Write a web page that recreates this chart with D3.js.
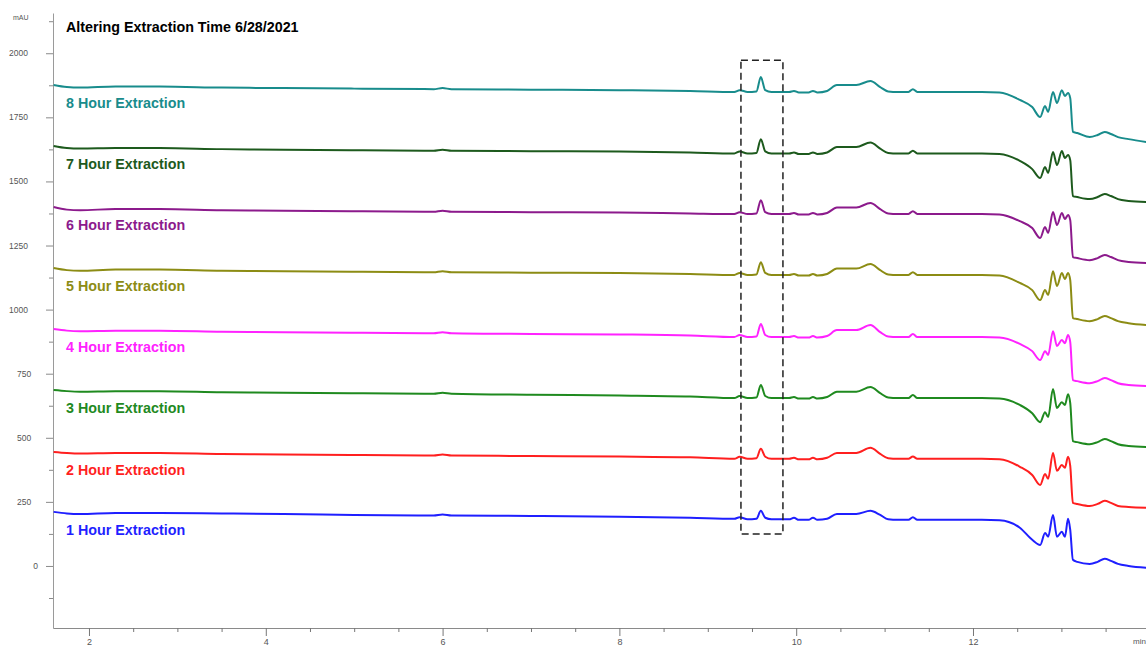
<!DOCTYPE html>
<html>
<head>
<meta charset="utf-8">
<script src="https://cdn.jsdelivr.net/npm/d3@7"></script>
<style>
  body { margin: 0; background: #fff; }
  svg { display: block; }
  text { font-family: "Liberation Sans", Arial, Helvetica, sans-serif; }
</style>
</head>
<body>
<svg id="chart" width="1146" height="647"></svg>
<script>
// Retention times (min) shared by every trace
const times = [1.60, 1.75, 1.90, 2.30, 2.80, 3.50, 4.20, 5.00, 5.90, 6.00,
  6.10, 7.00, 8.00, 8.80, 9.30, 9.36, 9.45, 9.55, 9.60, 9.65,
  9.72, 9.92, 9.975, 10.03, 10.14, 10.19, 10.24, 10.35, 10.46, 10.68,
  10.84, 10.95, 11.04, 11.15, 11.27, 11.32, 11.37, 11.80, 12.10, 12.30,
  12.53, 12.67, 12.76, 12.815, 12.85, 12.905, 12.95, 13.005, 13.04, 13.075,
  13.10, 13.13, 13.18, 13.32, 13.41, 13.49, 13.56, 13.64, 13.76, 13.96];

// Absorbance (mAU), stacked chromatograms
const hour1 = [211, 205, 203, 207, 207, 205, 203, 199, 197, 201,
  197, 195, 192, 188, 184, 190, 182, 184, 215, 188,
  182, 182, 188, 180, 180, 188, 180, 184, 203, 203,
  215, 199, 182, 180, 180, 190, 180, 180, 180, 178,
  149, 102, 82, 129, 114, 199, 114, 133, 114, 184,
  141, 24, 16, 8, 16, 28, 20, 8, 0, -7];
const hour2 = [445, 441, 439, 441, 441, 437, 435, 433, 431, 435,
  431, 429, 427, 424, 418, 426, 418, 420, 457, 426,
  418, 418, 422, 416, 416, 422, 416, 422, 441, 441,
  461, 437, 420, 418, 418, 427, 418, 418, 418, 416,
  387, 355, 316, 359, 340, 441, 371, 394, 383, 426,
  390, 246, 242, 234, 242, 254, 246, 234, 230, 227];
const hour3 = [686, 682, 680, 682, 682, 678, 676, 674, 672, 676,
  672, 668, 665, 661, 655, 663, 655, 657, 706, 663,
  655, 655, 659, 653, 653, 659, 653, 659, 680, 680,
  698, 674, 657, 655, 655, 667, 655, 655, 655, 653,
  628, 596, 561, 600, 581, 690, 616, 639, 628, 670,
  635, 487, 483, 475, 483, 495, 487, 475, 468, 464];
const hour4 = [924, 918, 916, 918, 918, 914, 912, 910, 908, 912,
  908, 905, 903, 899, 893, 901, 893, 895, 944, 901,
  893, 893, 897, 891, 891, 897, 891, 897, 920, 920,
  940, 912, 895, 893, 893, 905, 893, 893, 893, 891,
  866, 838, 803, 838, 823, 916, 858, 881, 869, 901,
  873, 725, 721, 713, 721, 733, 725, 713, 706, 702];
const hour5 = [1162, 1154, 1152, 1156, 1156, 1152, 1150, 1148, 1146, 1150,
  1146, 1144, 1143, 1139, 1135, 1143, 1135, 1137, 1185, 1143,
  1135, 1135, 1139, 1133, 1133, 1139, 1133, 1139, 1160, 1160,
  1178, 1154, 1137, 1135, 1135, 1146, 1135, 1135, 1135, 1133,
  1104, 1076, 1037, 1076, 1057, 1150, 1092, 1143, 1119, 1143,
  1115, 967, 963, 955, 963, 975, 967, 955, 947, 940];
const hour6 = [1400, 1390, 1388, 1392, 1392, 1388, 1386, 1384, 1382, 1386,
  1382, 1380, 1379, 1375, 1373, 1380, 1373, 1375, 1427, 1380,
  1373, 1373, 1377, 1371, 1371, 1377, 1371, 1377, 1398, 1398,
  1416, 1392, 1375, 1373, 1373, 1384, 1373, 1373, 1373, 1371,
  1345, 1318, 1279, 1322, 1299, 1381, 1330, 1377, 1353, 1369,
  1349, 1205, 1201, 1193, 1201, 1213, 1205, 1193, 1186, 1182];
const hour7 = [1638, 1630, 1628, 1630, 1630, 1626, 1624, 1622, 1620, 1624,
  1620, 1618, 1617, 1613, 1609, 1617, 1609, 1611, 1665, 1617,
  1609, 1609, 1613, 1607, 1607, 1613, 1607, 1613, 1634, 1634,
  1652, 1628, 1611, 1609, 1609, 1620, 1609, 1609, 1609, 1607,
  1580, 1548, 1513, 1556, 1533, 1615, 1564, 1619, 1591, 1603,
  1583, 1443, 1439, 1431, 1439, 1451, 1443, 1431, 1424, 1420];
const hour8 = [1876, 1868, 1866, 1870, 1870, 1866, 1864, 1862, 1860, 1864,
  1860, 1858, 1856, 1853, 1849, 1856, 1849, 1851, 1907, 1856,
  1849, 1849, 1853, 1847, 1847, 1853, 1847, 1853, 1876, 1876,
  1892, 1868, 1851, 1849, 1849, 1860, 1849, 1849, 1849, 1847,
  1818, 1790, 1751, 1794, 1771, 1849, 1806, 1856, 1833, 1845,
  1825, 1693, 1689, 1673, 1681, 1693, 1685, 1673, 1665, 1654];

const seriesNames = ["1 Hour Extraction", "2 Hour Extraction", "3 Hour Extraction", "4 Hour Extraction",
  "5 Hour Extraction", "6 Hour Extraction", "7 Hour Extraction", "8 Hour Extraction"];
const seriesValues = [hour1, hour2, hour3, hour4, hour5, hour6, hour7, hour8];
const seriesColors = ["#1f1fff", "#ff1f1f", "#1f8a1f", "#ff22ff", "#8c8c14", "#8c1a8c", "#1d5a1d", "#188c8c"];

const yTickValues = [0, 250, 500, 750, 1000, 1250, 1500, 1750, 2000];
const xTickValues = [2, 4, 6, 8, 10, 12];

// Highlighted region around the 9.6 min peak: [t0, t1] x [v0, v1]
const highlightTimes = [9.375, 9.85];
const highlightValues = [125, 1973];

const chartTitle = "Altering Extraction Time 6/28/2021";

const svg = d3.select("#chart");
svg.append("rect").attr("width", 1146).attr("height", 647).attr("fill", "#fff");

const x = d3.scaleLinear().domain([1.593, 13.957]).range([53, 1146]);
const y = d3.scaleLinear().domain([-242, 2157]).range([628, 13]);

// Y axis
const yAxis = d3.axisLeft(y)
  .tickValues(d3.range(-125, 2126, 125))
  .tickSizeOuter(0)
  .tickFormat(() => "");
const gy = svg.append("g").attr("transform", "translate(53,0)").call(yAxis);
gy.select(".domain").attr("stroke", "#9a9a9a");
gy.selectAll(".tick line")
  .attr("stroke", "#8a8a8a")
  .attr("x2", d => (d % 250 === 0 ? -7 : -4));

// Labels sit a little further right the fewer digits they have
svg.append("g").selectAll("text").data(yTickValues).join("text")
  .attr("x", d => 28 + (4 - String(d).length) * 3.3)
  .attr("y", d => y(d))
  .attr("text-anchor", "end").attr("dominant-baseline", "central")
  .attr("font-size", 8.5).attr("fill", "#555")
  .text(d => d);

svg.append("text").attr("x", 13).attr("y", 17)
  .attr("dominant-baseline", "central")
  .attr("font-size", 7).attr("fill", "#555").text("mAU");

// X axis
const xAxis = d3.axisBottom(x)
  .tickValues(d3.range(2, 14, 0.5))
  .tickSizeOuter(0)
  .tickFormat(d => (xTickValues.includes(d) ? d : ""));
const gx = svg.append("g").attr("transform", "translate(0,628)").call(xAxis);
gx.select(".domain").attr("stroke", "#8a8a8a");
gx.selectAll(".tick line")
  .attr("stroke", "#777")
  .attr("y2", d => (xTickValues.includes(d) ? 8 : 4));
gx.selectAll(".tick text")
  .attr("y", 11).attr("font-size", 9).attr("fill", "#555")
  .attr("font-family", "Liberation Sans, Arial, sans-serif");

svg.append("text").attr("x", 1133).attr("y", 644)
  .attr("font-size", 8).attr("fill", "#555").text("min");

// Traces
const line = d3.line()
  .x((d, i) => x(times[i]))
  .y(d => y(d))
  .curve(d3.curveMonotoneX);

const plot = svg.append("g");
seriesValues.forEach((vals, k) => {
  plot.append("path")
    .attr("d", line(vals))
    .attr("fill", "none")
    .attr("stroke", seriesColors[k])
    .attr("stroke-width", 2)
    .attr("stroke-linejoin", "round");
  plot.append("text")
    .attr("x", 66)
    .attr("y", y(vals[0]) + 18)
    .attr("dominant-baseline", "central")
    .attr("font-size", 14.3)
    .attr("font-weight", "bold")
    .attr("fill", seriesColors[k])
    .text(seriesNames[k]);
});

// Dashed box around the 9.6 min peak
svg.append("rect")
  .attr("x", x(highlightTimes[0]))
  .attr("y", y(highlightValues[1]))
  .attr("width", x(highlightTimes[1]) - x(highlightTimes[0]))
  .attr("height", y(highlightValues[0]) - y(highlightValues[1]))
  .attr("fill", "none")
  .attr("stroke", "#222")
  .attr("stroke-width", 1.5)
  .attr("stroke-dasharray", "7,4");

// Title
svg.append("text")
  .attr("x", 66).attr("y", 27)
  .attr("dominant-baseline", "central")
  .attr("font-size", 14.3).attr("font-weight", "bold").attr("fill", "#000")
  .text(chartTitle);
</script>
</body>
</html>
